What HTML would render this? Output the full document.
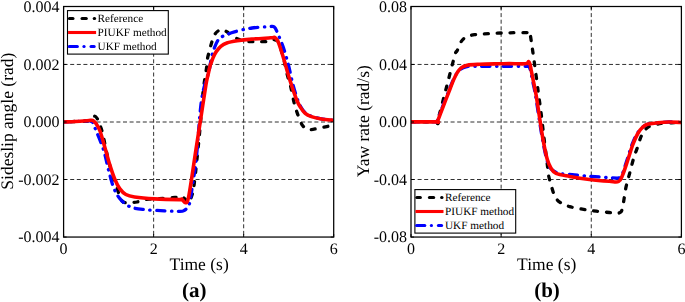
<!DOCTYPE html>
<html><head><meta charset="utf-8"><title>fig</title>
<style>
html,body{margin:0;padding:0;background:#fff;}
svg{display:block;}
text{font-family:"Liberation Serif",serif;fill:#000;text-rendering:geometricPrecision;}
.tl{font-size:16px;}
.al{font-size:17.5px;}
.cl{font-size:21px;font-weight:bold;}
.lg{font-size:11.25px;}
.g{stroke:#1a1a1a;stroke-width:0.9;stroke-dasharray:4 2.6;fill:none;}
.f{fill:none;stroke:#000;stroke-width:1.25;}
.t{stroke:#000;stroke-width:1;}
.k{fill:none;stroke:#000;stroke-width:3.3;stroke-dasharray:3.9 8.9;stroke-linecap:round;stroke-linejoin:round;}
.b{fill:none;stroke:#0000ff;stroke-width:3.3;stroke-dasharray:8.2 6.6 0.4 6.4;stroke-linecap:round;stroke-linejoin:round;}
.r{fill:none;stroke:#ff0000;stroke-width:3.6;stroke-linejoin:round;}
</style></head><body>
<svg width="685" height="302" viewBox="0 0 685 302">
<rect width="685" height="302" fill="#fff"/>
<g style="opacity:0.999">
<line x1="153.63" y1="6.5" x2="153.63" y2="237.05" class="g"/>
<line x1="243.67" y1="6.5" x2="243.67" y2="237.05" class="g"/>
<line x1="63.6" y1="64.45" x2="333.70000000000005" y2="64.45" class="g"/>
<line x1="63.6" y1="122.00" x2="333.70000000000005" y2="122.00" class="g"/>
<line x1="63.6" y1="179.50" x2="333.70000000000005" y2="179.50" class="g"/>
<g>
<path d="M63.50 122.00 C66.25 121.88 75.75 121.47 80.00 121.30 C84.25 121.13 87.00 121.47 89.00 121.00 C91.00 120.53 91.05 119.30 92.00 118.50 C92.95 117.70 93.78 116.12 94.70 116.20 C95.62 116.28 96.70 117.70 97.50 119.00 C98.30 120.30 98.67 121.67 99.50 124.00 C100.33 126.33 101.23 127.92 102.50 133.00 C103.77 138.08 105.68 148.33 107.10 154.50 C108.52 160.67 109.52 164.92 111.00 170.00 C112.48 175.08 114.17 179.85 116.00 185.00 C117.83 190.15 119.67 197.98 122.00 200.90 C124.33 203.82 127.50 202.32 130.00 202.50 C132.50 202.68 134.58 202.48 137.00 202.00 C139.42 201.52 141.67 200.10 144.50 199.60 C147.33 199.10 148.92 199.35 154.00 199.00 C159.08 198.65 170.58 198.00 175.00 197.50 C179.42 197.00 178.83 195.75 180.50 196.00 C182.17 196.25 183.58 197.83 185.00 199.00 C186.42 200.17 188.00 203.17 189.00 203.00 C190.00 202.83 190.20 200.67 191.00 198.00 C191.80 195.33 192.73 194.17 193.80 187.00 C194.87 179.83 196.32 165.33 197.40 155.00 C198.48 144.67 199.37 135.45 200.30 125.00 C201.23 114.55 201.95 101.90 203.00 92.30 C204.05 82.70 205.83 73.12 206.60 67.40 C207.37 61.68 207.08 60.90 207.60 58.00 C208.12 55.10 208.98 52.70 209.70 50.00 C210.42 47.30 211.03 44.42 211.90 41.80 C212.77 39.18 213.78 36.17 214.90 34.30 C216.02 32.43 217.37 31.38 218.60 30.60 C219.83 29.82 220.93 29.42 222.30 29.60 C223.67 29.78 225.18 30.60 226.80 31.70 C228.42 32.80 230.02 34.95 232.00 36.20 C233.98 37.45 236.60 38.37 238.70 39.20 C240.80 40.03 241.58 40.78 244.60 41.20 C247.62 41.62 252.45 41.67 256.80 41.70 C261.15 41.73 267.83 41.73 270.70 41.40 C273.57 41.07 272.73 39.57 274.00 39.70 C275.27 39.83 276.77 39.32 278.30 42.20 C279.83 45.08 281.70 51.55 283.20 57.00 C284.70 62.45 286.12 70.27 287.30 74.90 C288.48 79.53 289.18 80.25 290.30 84.80 C291.42 89.35 292.75 97.23 294.00 102.20 C295.25 107.17 296.33 110.67 297.80 114.60 C299.27 118.53 300.93 123.32 302.80 125.80 C304.67 128.28 306.32 129.10 309.00 129.50 C311.68 129.90 314.82 128.95 318.90 128.20 C322.98 127.45 331.07 125.53 333.50 125.00" class="k" style="stroke-dashoffset:5.4"/>
<path d="M63.50 122.00 C66.25 121.88 75.75 121.50 80.00 121.30 C84.25 121.10 87.17 120.85 89.00 120.80 C90.83 120.75 90.33 120.63 91.00 121.00 C91.67 121.37 92.33 121.83 93.00 123.00 C93.67 124.17 93.23 123.50 95.00 128.00 C96.77 132.50 101.35 143.02 103.60 150.00 C105.85 156.98 106.85 163.70 108.50 169.90 C110.15 176.10 111.63 182.45 113.50 187.20 C115.37 191.95 117.02 195.17 119.70 198.40 C122.38 201.63 125.47 204.73 129.60 206.60 C133.73 208.47 138.70 208.90 144.50 209.60 C150.30 210.30 158.48 210.52 164.40 210.80 C170.32 211.08 176.73 211.33 180.00 211.30 C183.27 211.27 182.83 211.12 184.00 210.60 C185.17 210.08 186.13 209.20 187.00 208.20 C187.87 207.20 188.57 206.55 189.20 204.60 C189.83 202.65 190.30 199.40 190.80 196.50 C191.30 193.60 191.27 193.72 192.20 187.20 C193.13 180.68 194.83 171.98 196.40 157.40 C197.97 142.82 199.47 114.27 201.60 99.70 C203.73 85.13 207.55 77.12 209.20 70.00 C210.85 62.88 210.58 60.82 211.50 57.00 C212.42 53.18 213.55 49.98 214.70 47.10 C215.85 44.22 216.97 41.55 218.40 39.70 C219.83 37.85 220.62 37.32 223.30 36.00 C225.98 34.68 229.73 33.13 234.50 31.80 C239.27 30.47 246.27 28.83 251.90 28.00 C257.53 27.17 264.57 26.97 268.30 26.80 C272.03 26.63 272.65 25.68 274.30 27.00 C275.95 28.32 276.72 31.35 278.20 34.70 C279.68 38.05 281.52 42.13 283.20 47.10 C284.88 52.07 286.70 58.35 288.30 64.50 C289.90 70.65 291.35 78.42 292.80 84.00 C294.25 89.58 295.70 94.25 297.00 98.00 C298.30 101.75 299.23 104.03 300.60 106.50 C301.97 108.97 303.40 111.17 305.20 112.80 C307.00 114.43 308.70 115.30 311.40 116.30 C314.10 117.30 317.72 118.13 321.40 118.80 C325.08 119.47 331.48 120.05 333.50 120.30" class="b"/>
<path d="M63.50 122.00 C66.25 121.88 75.75 121.55 80.00 121.30 C84.25 121.05 87.08 120.67 89.00 120.50 C90.92 120.33 90.75 120.22 91.50 120.30 C92.25 120.38 92.75 120.47 93.50 121.00 C94.25 121.53 94.92 121.83 96.00 123.50 C97.08 125.17 98.40 126.58 100.00 131.00 C101.60 135.42 103.97 144.35 105.60 150.00 C107.23 155.65 108.28 160.07 109.80 164.90 C111.32 169.73 113.05 175.05 114.70 179.00 C116.35 182.95 117.83 186.02 119.70 188.60 C121.57 191.18 123.42 193.10 125.90 194.50 C128.38 195.90 129.85 196.27 134.60 197.00 C139.35 197.73 146.95 198.47 154.40 198.90 C161.85 199.33 174.75 199.57 179.30 199.60 C183.85 199.63 180.67 198.60 181.70 199.10 C182.73 199.60 184.32 203.12 185.50 202.60 C186.68 202.08 187.07 204.77 188.80 196.00 C190.53 187.23 193.98 162.42 195.90 150.00 C197.82 137.58 198.63 132.33 200.30 121.50 C201.97 110.67 204.62 92.75 205.90 85.00 C207.18 77.25 207.27 78.33 208.00 75.00 C208.73 71.67 209.75 67.07 210.30 65.00 C210.85 62.93 210.77 63.97 211.30 62.60 C211.83 61.23 212.65 58.67 213.50 56.80 C214.35 54.93 215.18 53.15 216.40 51.40 C217.62 49.65 219.07 47.70 220.80 46.30 C222.53 44.90 224.07 43.92 226.80 43.00 C229.53 42.08 233.02 41.45 237.20 40.80 C241.38 40.15 246.32 39.60 251.90 39.10 C257.48 38.60 266.97 38.08 270.70 37.80 C274.43 37.52 273.42 37.27 274.30 37.40 C275.18 37.53 275.33 37.80 276.00 38.60 C276.67 39.40 277.10 39.13 278.30 42.20 C279.50 45.27 281.55 51.60 283.20 57.00 C284.85 62.40 286.70 69.55 288.20 74.60 C289.70 79.65 290.80 83.12 292.20 87.30 C293.60 91.48 295.25 96.40 296.60 99.70 C297.95 103.00 298.87 104.83 300.30 107.10 C301.73 109.37 303.35 111.72 305.20 113.30 C307.05 114.88 308.70 115.65 311.40 116.60 C314.10 117.55 317.72 118.38 321.40 119.00 C325.08 119.62 331.48 120.08 333.50 120.30" class="r"/>
</g>
<rect x="60.6" y="6.5" width="3" height="230.55" fill="#fff"/><rect x="333.70000000000005" y="6.5" width="3" height="230.55" fill="#fff"/>
<rect x="63.6" y="6.5" width="270.10" height="230.55" class="f"/>
<line x1="63.60" y1="237.05" x2="63.60" y2="234.05" class="t"/>
<line x1="63.60" y1="6.5" x2="63.60" y2="9.5" class="t"/>
<text x="63.60" y="254.1" text-anchor="middle" class="tl">0</text>
<line x1="153.63" y1="237.05" x2="153.63" y2="234.05" class="t"/>
<line x1="153.63" y1="6.5" x2="153.63" y2="9.5" class="t"/>
<text x="153.63" y="254.1" text-anchor="middle" class="tl">2</text>
<line x1="243.67" y1="237.05" x2="243.67" y2="234.05" class="t"/>
<line x1="243.67" y1="6.5" x2="243.67" y2="9.5" class="t"/>
<text x="243.67" y="254.1" text-anchor="middle" class="tl">4</text>
<line x1="333.70" y1="237.05" x2="333.70" y2="234.05" class="t"/>
<line x1="333.70" y1="6.5" x2="333.70" y2="9.5" class="t"/>
<text x="333.70" y="254.1" text-anchor="middle" class="tl">6</text>
<line x1="63.6" y1="6.50" x2="66.6" y2="6.50" class="t"/>
<line x1="333.70000000000005" y1="6.50" x2="330.70000000000005" y2="6.50" class="t"/>
<text x="59.6" y="11.80" text-anchor="end" class="tl">0.004</text>
<line x1="63.6" y1="64.45" x2="66.6" y2="64.45" class="t"/>
<line x1="333.70000000000005" y1="64.45" x2="330.70000000000005" y2="64.45" class="t"/>
<text x="59.6" y="69.75" text-anchor="end" class="tl">0.002</text>
<line x1="63.6" y1="122.00" x2="66.6" y2="122.00" class="t"/>
<line x1="333.70000000000005" y1="122.00" x2="330.70000000000005" y2="122.00" class="t"/>
<text x="59.6" y="127.30" text-anchor="end" class="tl">0.000</text>
<line x1="63.6" y1="179.50" x2="66.6" y2="179.50" class="t"/>
<line x1="333.70000000000005" y1="179.50" x2="330.70000000000005" y2="179.50" class="t"/>
<text x="59.6" y="184.80" text-anchor="end" class="tl">-0.002</text>
<line x1="63.6" y1="237.05" x2="66.6" y2="237.05" class="t"/>
<line x1="333.70000000000005" y1="237.05" x2="330.70000000000005" y2="237.05" class="t"/>
<text x="59.6" y="242.35" text-anchor="end" class="tl">-0.004</text>
<text x="199.15" y="270" text-anchor="middle" class="al">Time (s)</text>
<text x="194.35" y="296.6" text-anchor="middle" class="cl">(a)</text>
<text transform="translate(13.4 121.2) rotate(-90)" text-anchor="middle" class="al">Sideslip angle (rad)</text>
<rect x="67.5" y="10.6" width="100.8" height="43.5" fill="#fff" stroke="#000" stroke-width="1.1"/>
<line x1="69.40" y1="18.60" x2="73.00" y2="18.60" class="k" style="stroke-dasharray:none;stroke-width:3"/>
<line x1="82.00" y1="18.60" x2="86.30" y2="18.60" class="k" style="stroke-dasharray:none;stroke-width:3"/>
<line x1="94.60" y1="18.60" x2="94.20" y2="18.60" class="k" style="stroke-dasharray:none;stroke-width:3"/>
<line x1="68.1" y1="32.5" x2="96.1" y2="32.5" class="r" style="stroke-width:3.1"/>
<line x1="69.20" y1="46.50" x2="77.40" y2="46.50" class="b" style="stroke-dasharray:none;stroke-width:3"/>
<line x1="83.90" y1="46.50" x2="84.10" y2="46.50" class="b" style="stroke-dasharray:none;stroke-width:3"/>
<line x1="91.00" y1="46.50" x2="94.20" y2="46.50" class="b" style="stroke-dasharray:none;stroke-width:3"/>
<text x="97.6" y="22.00" class="lg">Reference</text>
<text x="97.6" y="36.10" class="lg">PIUKF method</text>
<text x="97.6" y="50.20" class="lg">UKF method</text>
<line x1="501.13" y1="6.5" x2="501.13" y2="237.05" class="g"/>
<line x1="591.27" y1="6.5" x2="591.27" y2="237.05" class="g"/>
<line x1="411.0" y1="64.45" x2="681.4" y2="64.45" class="g"/>
<line x1="411.0" y1="122.00" x2="681.4" y2="122.00" class="g"/>
<line x1="411.0" y1="179.50" x2="681.4" y2="179.50" class="g"/>
<g>
<path d="M411.00 121.90 C415.25 121.88 432.07 121.95 436.50 121.80 C440.93 121.65 435.97 126.63 437.60 121.00 C439.23 115.37 443.42 99.00 446.30 88.00 C449.18 77.00 453.10 61.18 454.90 55.00 C456.70 48.82 456.12 53.03 457.10 50.90 C458.08 48.77 459.35 44.48 460.80 42.20 C462.25 39.92 463.52 38.45 465.80 37.20 C468.08 35.95 470.57 35.32 474.50 34.70 C478.43 34.08 483.62 33.82 489.40 33.50 C495.18 33.18 502.68 32.95 509.20 32.80 C515.72 32.65 525.05 32.60 528.50 32.60 C531.95 32.60 529.35 30.75 529.90 32.80 C530.45 34.85 531.18 40.82 531.80 44.90 C532.42 48.98 533.02 53.15 533.60 57.30 C534.18 61.45 534.68 65.23 535.30 69.80 C535.92 74.37 536.75 80.50 537.30 84.70 C537.85 88.90 537.98 90.38 538.60 95.00 C539.22 99.62 539.97 104.12 541.00 112.40 C542.03 120.68 543.75 136.02 544.80 144.70 C545.85 153.38 546.68 159.45 547.30 164.50 C547.92 169.55 547.88 171.63 548.50 175.00 C549.12 178.37 549.97 181.22 551.00 184.70 C552.03 188.18 553.25 193.00 554.70 195.90 C556.15 198.80 557.22 200.32 559.70 202.10 C562.18 203.88 564.65 205.23 569.60 206.60 C574.55 207.97 582.78 209.32 589.40 210.30 C596.02 211.28 604.27 212.08 609.30 212.50 C614.33 212.92 617.38 213.70 619.60 212.80 C621.82 211.90 621.53 211.37 622.60 207.10 C623.67 202.83 624.77 193.05 626.00 187.20 C627.23 181.35 628.67 177.03 630.00 172.00 C631.33 166.97 632.73 161.15 634.00 157.00 C635.27 152.85 636.38 150.60 637.60 147.10 C638.82 143.60 639.85 139.10 641.30 136.00 C642.75 132.90 644.43 130.28 646.30 128.50 C648.17 126.72 649.57 126.18 652.50 125.30 C655.43 124.42 659.08 123.67 663.90 123.20 C668.72 122.73 678.48 122.62 681.40 122.50" class="k" style="stroke-dashoffset:0"/>
<path d="M411.00 121.90 C415.20 121.88 431.83 121.95 436.20 121.80 C440.57 121.65 436.25 123.22 437.20 121.00 C438.15 118.78 440.07 113.28 441.90 108.50 C443.73 103.72 446.33 97.02 448.20 92.30 C450.07 87.58 451.65 83.38 453.10 80.20 C454.55 77.02 455.65 75.03 456.90 73.20 C458.15 71.37 459.08 70.27 460.60 69.20 C462.12 68.13 463.60 67.28 466.00 66.80 C468.40 66.32 469.33 66.38 475.00 66.30 C480.67 66.22 491.42 66.30 500.00 66.30 C508.58 66.30 521.67 66.22 526.50 66.30 C531.33 66.38 528.37 66.22 529.00 66.80 C529.63 67.38 529.65 67.23 530.30 69.80 C530.95 72.37 532.03 78.00 532.90 82.20 C533.77 86.40 534.40 88.53 535.50 95.00 C536.60 101.47 538.25 113.13 539.50 121.00 C540.75 128.87 541.78 135.77 543.00 142.20 C544.22 148.63 545.55 155.27 546.80 159.60 C548.05 163.93 548.77 165.98 550.50 168.20 C552.23 170.42 554.85 171.93 557.20 172.90 C559.55 173.87 559.23 173.45 564.60 174.00 C569.97 174.55 580.40 175.53 589.40 176.20 C598.40 176.87 613.17 178.23 618.60 178.00 C624.03 177.77 620.60 177.80 622.00 174.80 C623.40 171.80 625.33 165.02 627.00 160.00 C628.67 154.98 630.30 149.12 632.00 144.70 C633.70 140.28 635.43 136.40 637.20 133.50 C638.97 130.60 640.88 128.83 642.60 127.30 C644.32 125.77 645.20 125.02 647.50 124.30 C649.80 123.58 652.85 123.38 656.40 123.00 C659.95 122.62 664.63 122.08 668.80 122.00 C672.97 121.92 679.30 122.42 681.40 122.50" class="b"/>
<path d="M411.00 121.90 C415.25 121.88 432.07 121.95 436.50 121.80 C440.93 121.65 436.62 123.22 437.60 121.00 C438.58 118.78 440.55 113.28 442.40 108.50 C444.25 103.72 446.83 97.07 448.70 92.30 C450.57 87.53 452.15 83.22 453.60 79.90 C455.05 76.58 456.15 74.40 457.40 72.40 C458.65 70.40 459.45 69.10 461.10 67.90 C462.75 66.70 464.18 65.80 467.30 65.20 C470.42 64.60 474.40 64.53 479.80 64.30 C485.20 64.07 494.80 63.92 499.70 63.80 C504.60 63.68 504.90 63.60 509.20 63.60 C513.50 63.60 522.27 64.13 525.50 63.80 C528.73 63.47 527.82 61.40 528.60 61.60 C529.38 61.80 529.78 63.63 530.20 65.00 C530.62 66.37 530.53 66.93 531.10 69.80 C531.67 72.67 532.77 78.00 533.60 82.20 C534.43 86.40 535.02 88.53 536.10 95.00 C537.18 101.47 538.87 113.13 540.10 121.00 C541.33 128.87 542.30 135.77 543.50 142.20 C544.70 148.63 546.05 155.27 547.30 159.60 C548.55 163.93 549.55 165.90 551.00 168.20 C552.45 170.50 552.90 172.03 556.00 173.40 C559.10 174.77 564.03 175.38 569.60 176.40 C575.17 177.42 582.78 178.68 589.40 179.50 C596.02 180.32 604.43 180.97 609.30 181.30 C614.17 181.63 616.37 182.58 618.60 181.50 C620.83 180.42 621.17 178.38 622.70 174.80 C624.23 171.22 626.12 165.02 627.80 160.00 C629.48 154.98 631.13 149.12 632.80 144.70 C634.47 140.28 636.17 136.40 637.80 133.50 C639.43 130.60 640.98 128.83 642.60 127.30 C644.22 125.77 645.20 125.02 647.50 124.30 C649.80 123.58 652.85 123.38 656.40 123.00 C659.95 122.62 664.63 122.08 668.80 122.00 C672.97 121.92 679.30 122.42 681.40 122.50" class="r"/>
</g>
<rect x="408.0" y="6.5" width="3" height="230.55" fill="#fff"/><rect x="681.4" y="6.5" width="3" height="230.55" fill="#fff"/>
<rect x="411.0" y="6.5" width="270.40" height="230.55" class="f"/>
<line x1="411.00" y1="237.05" x2="411.00" y2="234.05" class="t"/>
<line x1="411.00" y1="6.5" x2="411.00" y2="9.5" class="t"/>
<text x="411.00" y="254.1" text-anchor="middle" class="tl">0</text>
<line x1="501.13" y1="237.05" x2="501.13" y2="234.05" class="t"/>
<line x1="501.13" y1="6.5" x2="501.13" y2="9.5" class="t"/>
<text x="501.13" y="254.1" text-anchor="middle" class="tl">2</text>
<line x1="591.27" y1="237.05" x2="591.27" y2="234.05" class="t"/>
<line x1="591.27" y1="6.5" x2="591.27" y2="9.5" class="t"/>
<text x="591.27" y="254.1" text-anchor="middle" class="tl">4</text>
<line x1="681.40" y1="237.05" x2="681.40" y2="234.05" class="t"/>
<line x1="681.40" y1="6.5" x2="681.40" y2="9.5" class="t"/>
<text x="681.40" y="254.1" text-anchor="middle" class="tl">6</text>
<line x1="411.0" y1="6.50" x2="414.0" y2="6.50" class="t"/>
<line x1="681.4" y1="6.50" x2="678.4" y2="6.50" class="t"/>
<text x="407.0" y="11.80" text-anchor="end" class="tl">0.08</text>
<line x1="411.0" y1="64.45" x2="414.0" y2="64.45" class="t"/>
<line x1="681.4" y1="64.45" x2="678.4" y2="64.45" class="t"/>
<text x="407.0" y="69.75" text-anchor="end" class="tl">0.04</text>
<line x1="411.0" y1="122.00" x2="414.0" y2="122.00" class="t"/>
<line x1="681.4" y1="122.00" x2="678.4" y2="122.00" class="t"/>
<text x="407.0" y="127.30" text-anchor="end" class="tl">0.00</text>
<line x1="411.0" y1="179.50" x2="414.0" y2="179.50" class="t"/>
<line x1="681.4" y1="179.50" x2="678.4" y2="179.50" class="t"/>
<text x="407.0" y="184.80" text-anchor="end" class="tl">-0.04</text>
<line x1="411.0" y1="237.05" x2="414.0" y2="237.05" class="t"/>
<line x1="681.4" y1="237.05" x2="678.4" y2="237.05" class="t"/>
<text x="407.0" y="242.35" text-anchor="end" class="tl">-0.08</text>
<text x="546.70" y="270" text-anchor="middle" class="al">Time (s)</text>
<text x="547.00" y="296.6" text-anchor="middle" class="cl">(b)</text>
<text transform="translate(368.8 121.2) rotate(-90)" text-anchor="middle" class="al">Yaw rate (rad/s)</text>
<rect x="414.9" y="189.6" width="100.8" height="43.5" fill="#fff" stroke="#000" stroke-width="1.1"/>
<line x1="416.80" y1="197.60" x2="420.40" y2="197.60" class="k" style="stroke-dasharray:none;stroke-width:3"/>
<line x1="429.40" y1="197.60" x2="433.70" y2="197.60" class="k" style="stroke-dasharray:none;stroke-width:3"/>
<line x1="442.00" y1="197.60" x2="441.60" y2="197.60" class="k" style="stroke-dasharray:none;stroke-width:3"/>
<line x1="415.5" y1="211.5" x2="443.5" y2="211.5" class="r" style="stroke-width:3.1"/>
<line x1="416.60" y1="225.50" x2="424.80" y2="225.50" class="b" style="stroke-dasharray:none;stroke-width:3"/>
<line x1="431.30" y1="225.50" x2="431.50" y2="225.50" class="b" style="stroke-dasharray:none;stroke-width:3"/>
<line x1="438.40" y1="225.50" x2="441.60" y2="225.50" class="b" style="stroke-dasharray:none;stroke-width:3"/>
<text x="445.0" y="201.00" class="lg">Reference</text>
<text x="445.0" y="215.10" class="lg">PIUKF method</text>
<text x="445.0" y="229.20" class="lg">UKF method</text>
</g>
</svg>
</body></html>
